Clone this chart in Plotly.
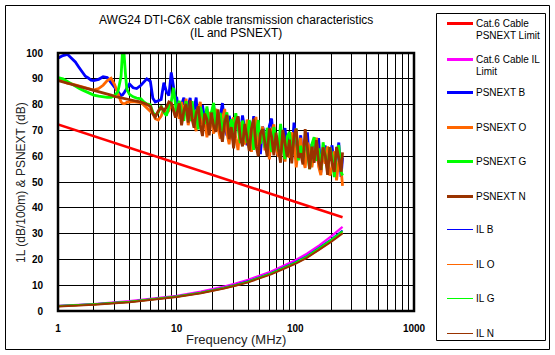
import plotly.graph_objects as go

# ---------------- data ----------------
FREQ = [1, 1.1, 1.2, 1.3, 1.4, 1.5, 1.6, 1.7, 1.8, 1.9, 2.0, 2.2, 2.4, 2.6, 2.8,
        3.0, 3.2, 3.4, 3.5, 3.6, 3.7, 3.8, 4.0, 4.3, 4.6, 5.0, 5.3, 5.6, 6.0, 6.3,
        6.6, 7.0, 7.4, 7.8, 8.2, 8.6, 9.0, 9.4, 9.8,
        10, 10.5, 11, 11.5, 12, 12.5, 13, 13.5, 14, 14.6,
        15.2, 15.8, 16.5, 17.2, 18, 18.8, 19.6, 20.5, 21.4, 22.3,
        23.3, 24.3, 25.4, 26.5, 27.7, 28.9, 30.2, 31.5, 32.9, 34.4,
        35.9, 37.5, 39.2, 40.9, 42.7, 44.6, 46.6, 48.7, 50.8, 53,
        55.4, 57.9, 60.4, 63.1, 65.9, 68.8, 71.9, 75.1, 78.4, 81.9,
        85.5, 89.3, 93.3, 97.4, 101.7, 106.2, 111, 115.9, 121, 126.4,
        132, 137.9, 144, 150.4, 157.1, 164.1, 171.4, 179, 187, 195.3,
        204, 213, 222.5, 232.4, 242.7, 250]

PSNEXT_B = [98, 99, 99.5, 98, 96.5, 94.5, 92.5, 91, 90.3, 89.5, 89.3, 89.8, 90.8, 90.5, 88.5,
            86.5, 85, 83.5, 83.8, 84.5, 85.5, 86.5, 88, 86.5, 86.2, 87.5, 89, 90, 89, 82.5,
            81, 81.5, 82, 88.5, 85, 83.5, 92.5, 87, 82,
            83, 75.5, 80, 82.7, 76.3, 80, 82.6, 74.3, 78, 82.7,
            71.4, 76.1, 79.8, 74.5, 78.3, 69.1, 75.9, 79.7, 72.4, 70.1,
            75.8, 80.6, 72.3, 68, 75.6, 72.3, 65, 72.7, 75.4, 68.1,
            75.8, 70.5, 64.2, 72, 68.7, 75.5, 65.2, 70, 60.8, 71.5,
            68.3, 63, 71.8, 74.6, 64.3, 68.1, 59.8, 68.5, 65.2, 70.9,
            61.7, 68.4, 59.2, 73, 65.7, 61.4, 68.1, 58.8, 63.5, 69.2,
            56, 64.7, 61.4, 58.2, 67, 53.7, 62.4, 64.1, 55.8, 59.5,
            64.2, 53.9, 59.6, 65.3, 52, 59.5]

PSNEXT_O = [90, 89, 88.3, 88, 87.6, 87.2, 86.8, 86.4, 86, 85.8, 85.6, 86.2, 87.5, 89.3, 90.2,
            87.8, 84, 81, 80.5, 80.3, 80.5, 80.9, 81, 81.2, 81, 80.8, 79.8, 78.8, 77.7, 76.5,
            74.5, 74, 75.5, 78.5, 76.5, 77.7, 80.5, 78.5, 75,
            80, 74.5, 81, 75.7, 82.3, 72, 76.6, 80.3, 73, 69.7,
            77.4, 81.1, 70.8, 74.5, 67.3, 77.1, 74.9, 68.7, 78.4, 71.1,
            66.8, 74.6, 78.3, 69, 64.6, 72.3, 75, 66.7, 62.4, 73.1,
            69.8, 64.5, 74.2, 71, 61.7, 69.5, 75.2, 64, 65.8, 71.5,
            62.3, 68, 58.8, 69.6, 72.3, 63.1, 59.8, 67.5, 65.2, 57.9,
            65.7, 59.4, 69.2, 66, 55.7, 63.4, 67.1, 58.8, 55.5, 65.2,
            63, 55.7, 61.4, 67.2, 56, 52.7, 62.4, 57.1, 63.8, 52.5,
            55.2, 61.9, 50.6, 58.3, 55, 48.5]

PSNEXT_G = [90.5, 90, 89, 88, 87, 86.3, 85.7, 85.2, 84.6, 84.1, 83.7, 83.3, 83, 82.8, 82.8,
            83.5, 85, 91, 101, 100, 92, 86, 84, 83, 82.5, 82.2, 81, 80.3, 80, 77,
            75.8, 77, 79.5, 77, 75.7, 79.5, 81, 86.5, 79.5,
            77, 81.5, 78, 73.7, 81.3, 78, 73.6, 81.3, 75, 77.7,
            70.4, 79.1, 75.8, 72.5, 79.3, 70.1, 76.9, 80.7, 70.4, 73.1,
            76.8, 68.6, 74.3, 77, 68.6, 74.3, 69, 76.7, 71.4, 65.1,
            73.8, 69.5, 65.2, 74, 70.7, 62.5, 69.2, 74, 64.8, 70.5,
            63.3, 71, 66.8, 61.6, 71.3, 67.1, 61.8, 72.5, 64.2, 58.9,
            67.7, 69.4, 61.2, 66, 70.7, 58.4, 64.1, 58.8, 66.5, 62.2,
            55, 64.7, 67.4, 58.2, 63, 54.7, 65.4, 60.1, 54.8, 63.5,
            60.2, 51.9, 61.6, 64.3, 54, 52.5]

PSNEXT_N = [89.3, 88.8, 88.2, 87.8, 87.5, 87.2, 86.9, 86.6, 86.3, 86, 85.7, 85.2, 84.6, 84.2, 83.7,
            83.2, 82.9, 82.5, 82.4, 82.2, 82.1, 82, 81.7, 81.5, 81.3, 81, 80.6, 80.1, 79.3, 76.5,
            75.2, 77.5, 79, 77.5, 79, 81, 80.5, 77.5, 75,
            76, 80.5, 72, 77.7, 80.3, 73, 81.6, 74.3, 71, 76.7,
            79.4, 72.1, 67.8, 76.5, 74.3, 68.1, 76.9, 71.7, 69.4, 78.1,
            69.8, 65.6, 73.3, 76, 66.6, 71.3, 63, 72.7, 75.4, 67.1,
            63.8, 72.5, 67.2, 62, 70.7, 74.5, 64.2, 60, 68.8, 70.5,
            65.3, 60, 70.8, 67.6, 60.3, 69.1, 62.8, 57.5, 70.2, 64.9,
            59.7, 66.4, 57.2, 68, 70.7, 59.4, 61.1, 56.8, 70.5, 63.2,
            55, 63.7, 57.4, 66.2, 58, 54.7, 63.4, 60.1, 52.8, 63.5,
            57.2, 53.9, 63.6, 59.3, 54, 61.5]

LIMIT_FREQ = [1, 4, 10, 31.25, 62.5, 100, 250]
PSNEXT_LIMIT = [72.3, 63.3, 57.3, 49.9, 45.4, 42.3, 36.3]

IL_FREQ = [1, 2, 4, 8, 10, 16, 20, 25, 31.25, 40, 62.5, 80, 100, 125, 160, 200, 250]
IL_LIMIT = [2.0, 2.7, 3.8, 5.3, 5.9, 7.5, 8.4, 9.5, 10.6, 12.1, 15.3, 17.5, 19.7, 22.2, 25.5, 28.9, 32.6]
IL_B = [1.9, 2.6, 3.6, 5.0, 5.6, 7.1, 8.0, 9.0, 10.1, 11.5, 14.7, 16.8, 18.9, 21.3, 24.5, 27.7, 31.2]
IL_O = [1.8, 2.5, 3.5, 4.9, 5.5, 7.0, 7.8, 8.8, 9.9, 11.2, 14.4, 16.4, 18.5, 20.8, 23.9, 27.1, 30.4]
IL_G = [1.9, 2.6, 3.6, 5.0, 5.6, 7.1, 7.9, 8.9, 10.0, 11.4, 14.6, 16.6, 18.7, 21.1, 24.3, 27.5, 30.9]
IL_N = [1.7, 2.4, 3.4, 4.8, 5.4, 6.9, 7.7, 8.7, 9.8, 11.1, 14.2, 16.2, 18.3, 20.6, 23.7, 26.8, 30.1]

X_TICKS = [1, 10, 100, 1000]
X_TICK_TEXT = ["1", "10", "100", "1000"]
X_MINOR = [2, 3, 4, 5, 6, 7, 8, 9, 20, 30, 40, 50, 60, 70, 80, 90,
           200, 300, 400, 500, 600, 700, 800, 900]

# ---------------- series definitions ----------------
series = [
    # (x, y, name lines, colour, plot width, legend width)
    (LIMIT_FREQ, PSNEXT_LIMIT, ["Cat.6 Cable", "PSNEXT Limit"], "#ff0000", 2.6, 3),
    (IL_FREQ, IL_LIMIT, ["Cat.6 Cable IL", "Limit"], "#ff00ff", 2.2, 3),
    (FREQ, PSNEXT_B, ["PSNEXT B"], "#0000ff", 2.8, 3),
    (FREQ, PSNEXT_O, ["PSNEXT O"], "#ff6600", 2.8, 3),
    (FREQ, PSNEXT_G, ["PSNEXT G"], "#00ff00", 2.8, 3),
    (FREQ, PSNEXT_N, ["PSNEXT N"], "#993300", 2.8, 3),
    (IL_FREQ, IL_B, ["IL B"], "#0000ff", 2.0, 1),
    (IL_FREQ, IL_O, ["IL O"], "#ff6600", 2.0, 1),
    (IL_FREQ, IL_G, ["IL G"], "#00ff00", 2.0, 1),
    (IL_FREQ, IL_N, ["IL N"], "#993300", 2.0, 1),
]

FONT = "Liberation Sans, Arial, sans-serif"
W, H = 555, 355
L, R, T, B = 58, 141, 53, 44
PW, PH = W - L - R, H - T - B


def px_x(p):
    return (p - L) / PW


def px_y(p):
    return (H - B - p) / PH


fig = go.Figure()
for x, y, name, col, w, _ in series:
    fig.add_trace(go.Scatter(x=x, y=y, mode="lines", name=" ".join(name),
                             line=dict(color=col, width=w), showlegend=False))

shapes = []
annotations = []

# plot border
shapes.append(dict(type="rect", xref="paper", yref="paper", x0=0, x1=1, y0=0, y1=1,
                   line=dict(color="black", width=2.5), layer="above"))
# outer frame
shapes.append(dict(type="rect", xref="paper", yref="paper",
                   x0=px_x(5.5), x1=px_x(549.5), y0=px_y(349.5), y1=px_y(5.5),
                   line=dict(color="black", width=1)))
# legend box
shapes.append(dict(type="rect", xref="paper", yref="paper",
                   x0=px_x(436.5), x1=px_x(545.5), y0=px_y(340.5), y1=px_y(13.5),
                   line=dict(color="black", width=1)))

legend_rows = [23.5, 59.5, 92.5, 127.5, 161.5, 196.5, 229.5, 264.5, 298.5, 333.5]
for (x, y, name, col, w, lw), row in zip(series, legend_rows):
    shapes.append(dict(type="line", xref="paper", yref="paper",
                       x0=px_x(447), x1=px_x(473), y0=px_y(row), y1=px_y(row),
                       line=dict(color=col, width=lw)))
    for k, line_text in enumerate(name):
        annotations.append(dict(text=line_text, xref="paper", yref="paper",
                                x=px_x(474), y=px_y(row + 11.5 * k),
                                xanchor="left", yanchor="middle", showarrow=False,
                                font=dict(family=FONT, size=10, color="black")))

# titles
annotations.append(dict(text="AWG24 DTI-C6X cable transmission characteristics",
                        xref="paper", yref="paper", x=0.5, y=px_y(20),
                        xanchor="center", yanchor="middle", showarrow=False,
                        font=dict(family=FONT, size=12, color="black")))
annotations.append(dict(text="(IL and PSNEXT)", xref="paper", yref="paper",
                        x=0.5, y=px_y(33), xanchor="center", yanchor="middle",
                        showarrow=False, font=dict(family=FONT, size=12, color="black")))
annotations.append(dict(text="1L (dB/100m) & PSNEXT (dB)", xref="paper", yref="paper",
                        x=px_x(21), y=px_y(183), xanchor="center", yanchor="middle",
                        textangle=-90, showarrow=False,
                        font=dict(family=FONT, size=12, color="#222222")))
annotations.append(dict(text="Frequency (MHz)", xref="paper", yref="paper",
                        x=0.5, y=px_y(339), xanchor="center", yanchor="middle",
                        showarrow=False, font=dict(family=FONT, size=13, color="#222222")))

fig.update_layout(
    width=W, height=H,
    margin=dict(l=L, r=R, t=T, b=B, pad=0),
    paper_bgcolor="white", plot_bgcolor="white",
    showlegend=False,
    shapes=shapes, annotations=annotations,
    xaxis=dict(type="log", range=[0, 3], tickmode="array", tickvals=X_TICKS,
               ticktext=X_TICK_TEXT, ticks="", showgrid=True, gridcolor="black",
               gridwidth=1, zeroline=False, showline=False,
               tickfont=dict(family=FONT, size=10, color="black", weight="bold"),
               ticklabelstandoff=10,
               minor=dict(tickmode="array", tickvals=X_MINOR, showgrid=True,
                          gridcolor="black", gridwidth=1, ticks="")),
    yaxis=dict(range=[0, 100], tickmode="linear", tick0=0, dtick=10, ticks="",
               showgrid=True, gridcolor="black", gridwidth=1, zeroline=False,
               showline=False, ticklabelstandoff=14,
               tickfont=dict(family=FONT, size=10, color="black", weight="bold")),
)

fig.write_html("out.html", config={"displayModeBar": False},
               post_script="document.body.style.margin='0';document.body.style.padding='0';")
